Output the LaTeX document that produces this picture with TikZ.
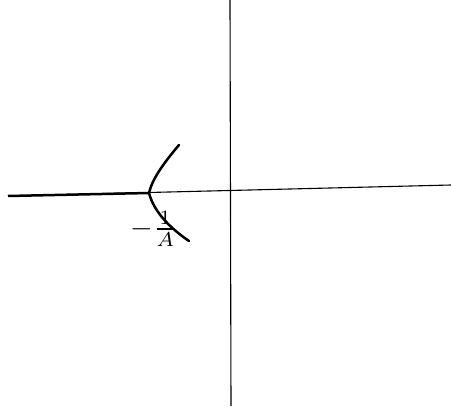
\documentclass[tikz,border=0pt]{standalone}
\begin{document}
\begin{tikzpicture}[x=1pt,y=-1pt,
  axis/.style={line width=1.1pt,black},
  locus/.style={line width=2.5pt},
  curve/.style={line width=2.5pt,line cap=round}]
\useasboundingbox (0,0) rectangle (451,414);
\coordinate (xl) at (8,196);
\coordinate (xr) at (451,185);
\coordinate (yt) at (230,0);
\coordinate (yb) at (231,406);
\coordinate (cusp) at (149,193);
\coordinate (ctop) at (179,145);
\coordinate (cbot) at (189,241);
\draw[axis] (xl) -- (xr);
\draw[axis] (yt) -- (yb);
\draw[locus] (xl) -- (cusp);
\draw[curve] (ctop) .. controls (162,165) and (152,180) .. (cusp)
  .. controls (154,212) and (170,228) .. (cbot);
\node[scale=2.9,inner sep=0pt] (lbl) at (154,229) {$-\frac{1}{A}$};
\end{tikzpicture}
\end{document}
